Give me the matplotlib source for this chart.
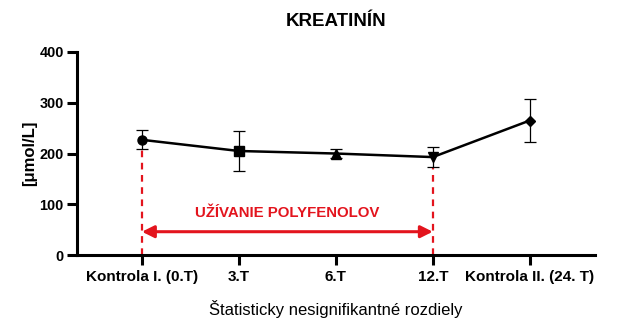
import numpy as np
import matplotlib
matplotlib.use('Agg')
import matplotlib.pyplot as plt

# Данные
labels = ['Kontrola I. (0.T)', '3.T', '6.T', '12.T', 'Kontrola II. (24. T)']
means = [227, 205, 200, 193, 265]
errors = [19, 40, 8, 20, 43]
markers = ['o', 's', '^', 'v', 'D']
marker_sizes = [6.5, 6.5, 6.5, 6.5, 5]
yticks = [0, 100, 200, 300, 400]

plt.rcParams['font.family'] = ['Liberation Sans', 'DejaVu Sans']

fig = plt.figure(figsize=(6.17, 3.27), dpi=100)
ax = fig.add_axes([0.1248, 0.220, 0.839, 0.621])

x = np.arange(len(labels))
red = '#e3141d'

# Красные пунктирные линии (начало и конец приёма)
ax.plot([x[0], x[0]], [0, means[0] - errors[0]], color=red, ls=(0, (3, 2.5)), lw=1.6, zorder=1)
ax.plot([x[3], x[3]], [0, means[3] - errors[3]], color=red, ls=(0, (3, 2.5)), lw=1.6, zorder=1)

# Стрелка
ax.annotate('', xy=(x[0], 46), xytext=(x[3], 46),
            arrowprops=dict(arrowstyle='<|-|>', color=red, lw=2.2,
                            mutation_scale=18, shrinkA=0, shrinkB=0))
ax.text((x[0] + x[3]) / 2, 83, 'UŽÍVANIE POLYFENOLOV', color=red,
        fontsize=10.8, fontweight='bold', ha='center', va='center')

# Линия и маркеры
ax.plot(x, means, color='black', lw=1.8, zorder=3)
for xi, m, e, mk, ms in zip(x, means, errors, markers, marker_sizes):
    ax.errorbar(xi, m, yerr=e, fmt=mk, color='black', ms=ms, capsize=4,
                elinewidth=0.9, capthick=0.9, zorder=4)

ax.set_xlim(-0.67, 4.67)
ax.set_ylim(0, 400)
ax.set_yticks(yticks)
ax.set_xticks(x)
ax.set_xticklabels(labels)

for s in ['top', 'right']:
    ax.spines[s].set_visible(False)
for s in ['left', 'bottom']:
    ax.spines[s].set_linewidth(2.2)
ax.tick_params(axis='y', width=2.2, length=7, labelsize=10.4, pad=2.5)
ax.tick_params(axis='x', width=2.2, length=7, labelsize=11, pad=4)
for lab in ax.get_xticklabels() + ax.get_yticklabels():
    lab.set_fontweight('bold')

ax.set_ylabel('[μmol/L]', fontsize=12, fontweight='bold', labelpad=2)
ax.set_xlabel('Štatisticky nesignifikantné rozdiely', fontsize=12, labelpad=11)

ax.set_title('KREATINÍN', fontsize=13.5, fontweight='bold', pad=19)

fig.savefig('out.png', dpi=100)
